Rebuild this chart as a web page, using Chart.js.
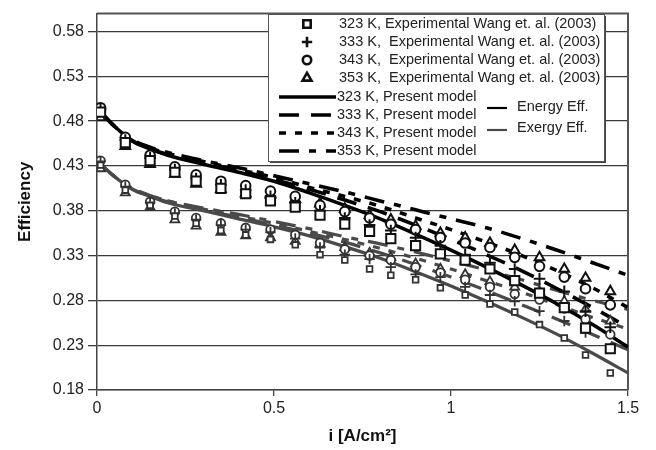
<!DOCTYPE html>
<html>
<head>
<meta charset="utf-8">
<script src="https://cdn.jsdelivr.net/npm/chart.js@4.4.1/dist/chart.umd.min.js"></script>
<style>
  body { margin: 0; background: #fff; }
  canvas { display: block; }
</style>
</head>
<body>
<canvas id="effChart" width="656" height="450"></canvas>
<script>
// current density of the measured points [A/cm2]
const expCurrent = [0.01, 0.08, 0.15, 0.22, 0.28, 0.35, 0.42, 0.49, 0.56, 0.63, 0.70,
                    0.77, 0.83, 0.90, 0.97, 1.04, 1.11, 1.18, 1.25, 1.32, 1.38, 1.45];

// measured energy efficiency (Wang et al. 2003)
const energyExp323 = [0.490, 0.456, 0.436, 0.423, 0.413, 0.405, 0.399, 0.391, 0.384, 0.375, 0.365,
                      0.357, 0.349, 0.341, 0.332, 0.325, 0.315, 0.302, 0.288, 0.272, 0.249, 0.226];
const energyExp333 = [0.493, 0.459, 0.439, 0.426, 0.416, 0.409, 0.403, 0.396, 0.389, 0.380, 0.372,
                      0.364, 0.358, 0.350, 0.341, 0.331, 0.322, 0.315, 0.304, 0.290, 0.268, 0.250];
const energyExp343 = [0.495, 0.462, 0.442, 0.429, 0.420, 0.413, 0.408, 0.402, 0.396, 0.386, 0.379,
                      0.372, 0.365, 0.359, 0.350, 0.344, 0.339, 0.328, 0.318, 0.306, 0.293, 0.275];
const energyExp353 = [0.484, 0.452, 0.432, 0.421, 0.410, 0.404, 0.399, 0.398, 0.393, 0.388, 0.382,
                      0.375, 0.370, 0.363, 0.355, 0.350, 0.344, 0.336, 0.328, 0.315, 0.305, 0.290];

// measured exergy efficiency
const exergyExp323 = [0.431, 0.403, 0.386, 0.374, 0.366, 0.358, 0.353, 0.348, 0.342, 0.331, 0.325,
                      0.315, 0.308, 0.303, 0.294, 0.286, 0.276, 0.267, 0.253, 0.238, 0.219, 0.199];
const exergyExp333 = [0.435, 0.407, 0.389, 0.377, 0.370, 0.364, 0.359, 0.356, 0.349, 0.339, 0.331,
                      0.326, 0.317, 0.309, 0.306, 0.295, 0.286, 0.279, 0.268, 0.257, 0.244, 0.226];
const exergyExp343 = [0.436, 0.409, 0.390, 0.379, 0.372, 0.366, 0.361, 0.359, 0.353, 0.344, 0.337,
                      0.330, 0.325, 0.317, 0.311, 0.303, 0.295, 0.287, 0.281, 0.271, 0.259, 0.242];
const exergyExp353 = [0.427, 0.400, 0.384, 0.370, 0.363, 0.356, 0.352, 0.350, 0.346, 0.343, 0.339,
                      0.333, 0.328, 0.321, 0.315, 0.309, 0.301, 0.295, 0.290, 0.279, 0.270, 0.257];

// model curves
const modelCurrent = [0.01, 0.05, 0.1, 0.15, 0.2, 0.3, 0.4, 0.5, 0.6, 0.7, 0.8, 0.9, 1.0, 1.1, 1.2, 1.3, 1.4, 1.5];

const energyModel323 = [0.490, 0.474, 0.458, 0.449, 0.442, 0.432, 0.423, 0.413, 0.400, 0.386, 0.371, 0.354, 0.336, 0.317, 0.297, 0.276, 0.253, 0.228];
const energyModel333 = [0.490, 0.474, 0.458, 0.449, 0.443, 0.434, 0.425, 0.415, 0.404, 0.392, 0.379, 0.364, 0.348, 0.331, 0.313, 0.293, 0.272, 0.250];
const energyModel343 = [0.490, 0.474, 0.459, 0.450, 0.444, 0.435, 0.426, 0.417, 0.406, 0.396, 0.385, 0.372, 0.359, 0.345, 0.330, 0.313, 0.294, 0.272];
const energyModel353 = [0.490, 0.474, 0.459, 0.451, 0.445, 0.436, 0.428, 0.419, 0.410, 0.401, 0.391, 0.381, 0.371, 0.361, 0.349, 0.336, 0.322, 0.308];

const exergyModel323 = [0.432, 0.418, 0.404, 0.396, 0.389, 0.380, 0.371, 0.362, 0.352, 0.340, 0.327, 0.312, 0.296, 0.279, 0.261, 0.242, 0.221, 0.199];
const exergyModel333 = [0.432, 0.418, 0.404, 0.396, 0.390, 0.381, 0.373, 0.364, 0.355, 0.345, 0.333, 0.320, 0.306, 0.291, 0.275, 0.259, 0.242, 0.225];
const exergyModel343 = [0.432, 0.418, 0.405, 0.397, 0.391, 0.382, 0.374, 0.366, 0.357, 0.348, 0.338, 0.327, 0.315, 0.302, 0.289, 0.275, 0.261, 0.248];
const exergyModel353 = [0.432, 0.418, 0.405, 0.397, 0.391, 0.383, 0.376, 0.368, 0.360, 0.351, 0.343, 0.334, 0.324, 0.314, 0.303, 0.291, 0.280, 0.270];

const yTicks = [0.18, 0.23, 0.28, 0.33, 0.38, 0.43, 0.48, 0.53, 0.58];
const xTicks = [0, 0.5, 1, 1.5];

const tempLabels = ["323 K", "333 K", "343 K", "353 K"];
const markerStyles = ["rect", "cross", "circle", "triangle"];
const dashes = [[], [20, 12], [7, 9], [20, 10, 7, 10]];

const ENERGY_COLOR = "#000000";
const EXERGY_COLOR = "#4a4a4a";

function toPoints(xs, ys) {
  return xs.map((x, k) => ({ x: x, y: ys[k] }));
}

function expSet(label, values, style, color, big) {
  let radius;
  if (style === "rect") radius = big ? 6.5 : 4;
  else if (style === "cross") radius = big ? 5.8 : 5.2;
  else if (style === "circle") radius = big ? 4.8 : 4.3;
  else radius = big ? 5.6 : 5.2;
  return {
    label: label,
    data: toPoints(expCurrent, values),
    showLine: false,
    pointStyle: style,
    pointRadius: radius,
    pointBorderWidth: big ? 2 : 1.8,
    pointBorderColor: color,
    pointBackgroundColor: "#ffffff",
    order: 1
  };
}

function modelSet(label, values, dash, color, width) {
  return {
    label: label,
    data: toPoints(modelCurrent, values),
    showLine: true,
    borderColor: color,
    borderWidth: width,
    borderDash: dash,
    pointRadius: 0,
    cubicInterpolationMode: "monotone",
    fill: false,
    order: 2
  };
}

const energyExp = [energyExp323, energyExp333, energyExp343, energyExp353];
const exergyExp = [exergyExp323, exergyExp333, exergyExp343, exergyExp353];
const energyModel = [energyModel323, energyModel333, energyModel343, energyModel353];
const exergyModel = [exergyModel323, exergyModel333, exergyModel343, exergyModel353];

const datasets = [];
for (let t = 0; t < 4; t++) {
  datasets.push(expSet(tempLabels[t] + " energy exp", energyExp[t], markerStyles[t], "#111111", true));
  datasets.push(expSet(tempLabels[t] + " exergy exp", exergyExp[t], markerStyles[t], "#333333", false));
}
for (let t = 0; t < 4; t++) {
  datasets.push(modelSet(tempLabels[t] + " energy model", energyModel[t], dashes[t], ENERGY_COLOR, 3.6));
  datasets.push(modelSet(tempLabels[t] + " exergy model", exergyModel[t], dashes[t], EXERGY_COLOR, 3.2));
}

// top and right edges of the plot box
const frame = {
  id: "frame",
  beforeDatasetsDraw(chart) {
    const { ctx, chartArea: a } = chart;
    ctx.save();
    ctx.strokeStyle = "#555";
    ctx.lineWidth = 2;
    ctx.beginPath();
    ctx.moveTo(a.left, a.top);
    ctx.lineTo(a.right, a.top);
    ctx.lineTo(a.right, a.bottom);
    ctx.stroke();
    ctx.restore();
  }
};

// boxed legend with marker rows, line rows and the energy/exergy key
const legendBox = {
  id: "legendBox",
  afterDraw(chart) {
    const ctx = chart.ctx;
    const bx = 268, by = 14, bw = 336, bh = 147;
    ctx.save();
    ctx.fillStyle = "#444";
    ctx.fillRect(bx + 2, by + 2, bw, bh);
    ctx.fillStyle = "#fff";
    ctx.fillRect(bx, by, bw, bh);
    ctx.strokeStyle = "#555";
    ctx.lineWidth = 1;
    ctx.strokeRect(bx + 0.5, by + 0.5, bw, bh);

    ctx.font = "14.5px 'Liberation Sans', Arial, sans-serif";
    ctx.fillStyle = "#222";
    ctx.textBaseline = "middle";
    const rowY = [24, 42, 60, 78, 97, 115, 133, 151];
    const expText = [
      "323 K, Experimental Wang et. al. (2003)",
      "333 K,  Experimental Wang et. al. (2003)",
      "343 K,  Experimental Wang et. al. (2003)",
      "353 K,  Experimental Wang et. al. (2003)"
    ];
    for (let t = 0; t < 4; t++) {
      ctx.strokeStyle = "#111";
      ctx.fillStyle = "#fff";
      ctx.lineWidth = 2.6;
      const r = t === 0 ? 5.2 : (t === 2 ? 4.2 : 5.2);
      Chart.helpers.drawPoint(ctx, { pointStyle: markerStyles[t], radius: r, borderWidth: 2.6, rotation: 0 }, 307, rowY[t]);
      ctx.fillStyle = "#222";
      ctx.fillText(expText[t], 339, rowY[t]);
    }
    for (let t = 0; t < 4; t++) {
      const y = rowY[4 + t];
      ctx.strokeStyle = "#000";
      ctx.lineWidth = 3.6;
      ctx.setLineDash(dashes[t]);
      ctx.beginPath();
      ctx.moveTo(279, y);
      ctx.lineTo(336, y);
      ctx.stroke();
      ctx.setLineDash([]);
      ctx.fillStyle = "#222";
      ctx.fillText(tempLabels[t] + ", Present model", 337, y);
    }
    ctx.lineWidth = 2.2;
    ctx.strokeStyle = ENERGY_COLOR;
    ctx.beginPath(); ctx.moveTo(487, 108); ctx.lineTo(507, 108); ctx.stroke();
    ctx.strokeStyle = EXERGY_COLOR;
    ctx.beginPath(); ctx.moveTo(487, 130); ctx.lineTo(507, 130); ctx.stroke();
    ctx.fillStyle = "#222";
    ctx.fillText("Energy Eff.", 517, 107);
    ctx.fillText("Exergy Eff.", 517, 128);
    ctx.restore();
  }
};

Chart.defaults.font.family = "'Liberation Sans', Arial, sans-serif";
Chart.defaults.font.size = 16;
Chart.defaults.color = "#222";

new Chart(document.getElementById("effChart"), {
  type: "scatter",
  data: { datasets: datasets },
  options: {
    responsive: false,
    animation: false,
    layout: { padding: { left: 0, right: 28, top: 7, bottom: 0 } },
    plugins: {
      legend: { display: false },
      tooltip: { enabled: false }
    },
    scales: {
      x: {
        type: "linear",
        min: 0,
        max: 1.5,
        afterBuildTicks: (scale) => { scale.ticks = xTicks.map(v => ({ value: v })); },
        afterFit: (scale) => { scale.height = 60; },
        ticks: {
          padding: 3,
          callback: (v) => String(v)
        },
        grid: { drawOnChartArea: false, drawTicks: true, tickLength: 6, color: "#444", lineWidth: 1.3 },
        border: { color: "#444", width: 1.5 },
        title: {
          display: true,
          text: "i [A/cm²]",
          font: { size: 17, weight: "bold" },
          color: "#111",
          padding: { top: 0, bottom: 3 }
        }
      },
      y: {
        type: "linear",
        min: 0.18,
        max: 0.60,
        afterBuildTicks: (scale) => { scale.ticks = yTicks.map(v => ({ value: v })); },
        afterFit: (scale) => { scale.width = 97; },
        ticks: {
          padding: 4,
          callback: (v) => v.toFixed(2)
        },
        grid: { color: "#3a3a3a", lineWidth: 1.3, tickLength: 9 },
        border: { color: "#444", width: 1.5 },
        title: {
          display: true,
          text: "Efficiency",
          font: { size: 17, weight: "bold" },
          color: "#111",
          padding: { top: 15, bottom: 0 }
        }
      }
    }
  },
  plugins: [frame, legendBox]
});
</script>
</body>
</html>
